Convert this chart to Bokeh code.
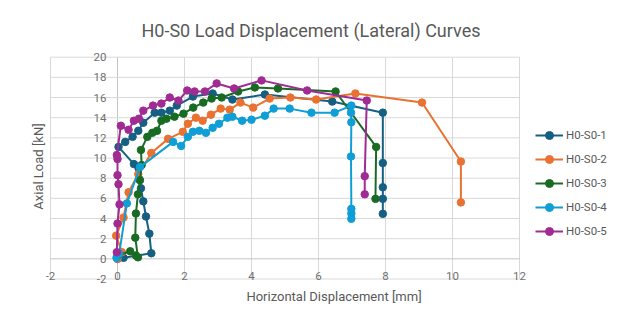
from bokeh.plotting import figure
from bokeh.models import Range1d, FixedTicker
from bokeh.core.properties import value
from bokeh.embed import file_html
from bokeh.resources import INLINE

# ---- data ----
s1_x = [0.0, 0.18, 1.01, 0.95, 0.85, 0.77, 0.70, 0.65, 0.49, 0.03, 0.23, 0.45, 0.62, 0.77, 1.11, 1.31, 1.56, 1.77, 2.25, 2.84, 3.43, 4.40, 6.41, 7.92, 7.92, 7.92, 7.92, 7.92]
s1_y = [0.0, 0.1, 0.55, 2.5, 4.2, 5.7, 7.0, 7.9, 9.4, 11.1, 11.6, 12.1, 12.7, 13.5, 14.5, 14.5, 14.7, 15.2, 16.1, 16.4, 15.8, 16.3, 15.6, 14.5, 9.5, 7.1, 5.95, 4.46]

s2_x = [0.0, 0.13, -0.04, 0.18, 0.33, 0.62, 1.01, 1.51, 1.95, 2.10, 2.34, 2.54, 2.79, 3.08, 3.35, 3.67, 4.05, 4.54, 5.16, 5.93, 7.10, 9.09, 10.25, 10.25]
s2_y = [0.0, 0.66, 2.3, 4.1, 6.6, 8.4, 10.5, 11.9, 12.6, 13.4, 14.0, 13.7, 14.3, 14.9, 14.8, 15.5, 15.0, 15.9, 16.0, 15.8, 16.4, 15.5, 9.65, 5.6]

s3_x = [0.0, 0.38, 0.55, 0.61, 0.53, 0.55, 0.61, 0.67, 0.72, 0.70, 0.89, 1.04, 1.18, 1.31, 1.46, 1.70, 1.97, 2.26, 2.56, 2.81, 3.11, 3.60, 4.10, 4.79, 6.51, 7.72, 7.70]
s3_y = [0.3, 0.75, 0.33, 0.15, 2.1, 4.5, 6.4, 7.8, 9.3, 10.8, 12.1, 12.5, 12.7, 13.7, 13.9, 14.1, 14.4, 15.0, 15.5, 15.9, 16.0, 16.6, 17.0, 16.9, 16.6, 11.1, 5.95]

s4_x = [-0.03, 0.05, 0.28, 0.67, 1.66, 1.90, 2.10, 2.25, 2.44, 2.64, 2.84, 3.03, 3.28, 3.43, 3.72, 4.00, 4.40, 4.66, 5.14, 5.79, 6.48, 6.98, 6.97, 6.98, 6.97, 6.98, 6.98, 6.98]
s4_y = [0.1, 0.5, 5.5, 9.1, 11.6, 11.2, 12.1, 12.6, 12.7, 12.5, 13.0, 13.4, 14.0, 14.1, 13.7, 13.8, 14.2, 14.9, 14.9, 14.5, 14.5, 15.2, 14.5, 13.55, 10.15, 4.96, 4.5, 3.97]

s5_x = [-0.02, 0.0, 0.06, 0.03, 0.0, 0.0, -0.02, 0.10, 0.33, 0.49, 0.64, 0.77, 1.06, 1.31, 1.56, 1.82, 2.08, 2.30, 2.61, 2.96, 3.48, 4.30, 5.66, 7.44, 7.38, 7.38]
s5_y = [0.66, 3.5, 5.4, 7.4, 8.3, 9.9, 10.3, 13.2, 12.8, 13.7, 13.9, 14.7, 15.2, 15.4, 16.0, 15.7, 16.7, 16.6, 16.6, 17.4, 16.9, 17.7, 16.7, 15.7, 8.2, 6.4]

series_names = ["H0-S0-1", "H0-S0-2", "H0-S0-3", "H0-S0-4", "H0-S0-5"]
series_colors = ["#156082", "#E97132", "#196B24", "#0F9ED5", "#A02B93"]

x_ticks = [-2, 0, 2, 4, 6, 8, 10, 12]
y_ticks = [-2, 0, 2, 4, 6, 8, 10, 12, 14, 16, 18, 20]
x_tick_labels = [str(v) for v in x_ticks]
y_tick_labels = [str(v) for v in y_ticks]

title_text = "H0-S0 Load Displacement (Lateral) Curves"
x_title = "Horizontal Displacement [mm]"
y_title = "Axial Load [kN]"

FONT = "Roboto"
TXT = "#595959"
TICK = "#707070"
GRID = "#d9d9d9"
AXIS0 = "#c4c4c4"

# frame spans the canvas below the title, right of the y title, above the x title;
# the visible value area is the gridded box x:[-2,12], y:[-2,20]
p = figure(width=624, height=320, output_backend="svg", toolbar_location=None,
           x_range=Range1d(-2.209, 15.134), y_range=Range1d(-2.942, 21.26),
           min_border_left=43, min_border_right=0, min_border_top=44, min_border_bottom=32)
p.outline_line_color = None
p.xgrid.visible = False
p.ygrid.visible = False

p.title.text = title_text
p.title.text_font = FONT
p.title.text_font_size = "18px"
p.title.text_font_style = "normal"
p.title.text_color = TXT
p.title.align = "left"
p.title.offset = 98
p.title.standoff = 8

for ax in (p.xaxis, p.yaxis):
    ax.ticker = FixedTicker(ticks=[])
    ax.axis_line_color = None
    ax.major_tick_line_color = None
    ax.minor_tick_line_color = None
    ax.major_tick_out = 0
    ax.major_tick_in = 0
    ax.minor_tick_out = 0
    ax.major_label_standoff = 0
    ax.axis_label_text_font = FONT
    ax.axis_label_text_font_size = "13px"
    ax.axis_label_text_font_style = "normal"
    ax.axis_label_text_color = TXT
p.xaxis.axis_label = x_title
p.yaxis.axis_label = y_title
p.xaxis.axis_label_standoff = 0
p.yaxis.axis_label_standoff = -2

# gridlines from the tick lists
nx, ny = len(x_ticks), len(y_ticks)
p.segment(x0=x_ticks, y0=[y_ticks[0]] * nx, x1=x_ticks, y1=[y_ticks[-1]] * nx,
          line_color=[AXIS0 if v == 0 else GRID for v in x_ticks], line_width=1)
p.segment(x0=[x_ticks[0]] * ny, y0=y_ticks, x1=[x_ticks[-1]] * ny, y1=y_ticks,
          line_color=[AXIS0 if v == 0 else GRID for v in y_ticks], line_width=1)

# tick labels (axes cross at 0, labels sit along the bottom / next to x = 0)
p.text(x=x_ticks, y=[y_ticks[0]] * nx, text=x_tick_labels, text_align="center",
       text_baseline="middle", y_offset=-3, text_font=value(FONT),
       text_font_size="11.5px", text_color=TICK)
p.text(x=[0] * ny, y=y_ticks, text=y_tick_labels, text_align="right",
       text_baseline="middle", x_offset=-11, text_font=value(FONT),
       text_font_size="11.5px", text_color=TICK)

xs = [s1_x, s2_x, s3_x, s4_x, s5_x]
ys = [s1_y, s2_y, s3_y, s4_y, s5_y]
for xv, yv, name, col in zip(xs, ys, series_names, series_colors):
    p.line(xv, yv, line_color=col, line_width=2, legend_label=name)
    p.scatter(xv, yv, size=7.5, fill_color=col, line_color=col, legend_label=name)

lg = p.legend[0]
lg.location = (492, 47)
lg.padding = 0
lg.margin = 0
lg.border_line_alpha = 0
lg.background_fill_alpha = 0
lg.glyph_width = 28
lg.glyph_height = 20
lg.label_height = 20
lg.spacing = 4
lg.label_standoff = 3
lg.label_text_font = FONT
lg.label_text_font_size = "11.5px"
lg.label_text_color = TXT

open("out.html", "w").write(file_html(p, INLINE))
